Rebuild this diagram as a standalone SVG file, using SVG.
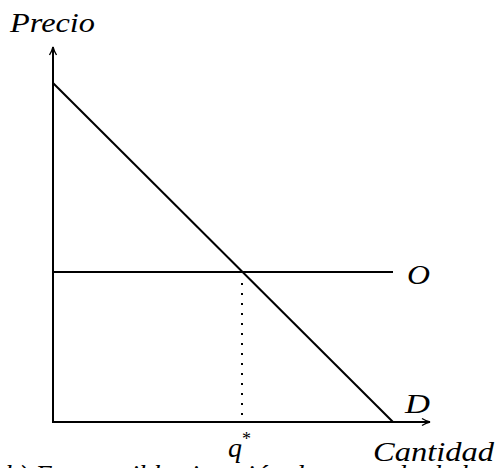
<svg xmlns="http://www.w3.org/2000/svg" width="498" height="468" viewBox="0 0 498 468">
<style>
.ax{stroke:#000;stroke-width:2;fill:none}
.ln{stroke:#000;stroke-width:2;fill:none}
.dot{stroke:#000;stroke-width:2;stroke-dasharray:2 8;fill:none}
.t{font-family:"Liberation Serif","DejaVu Serif",serif;font-style:italic;font-size:28px;fill:#000}
</style>
<defs>
<marker id="arr" viewBox="0 0 10 10" refX="9" refY="5" markerWidth="10" markerHeight="10" markerUnits="userSpaceOnUse" orient="auto">
<path d="M1,1.5 Q5,4 9,5 Q5,6 1,8.5" stroke="#000" stroke-width="1.4" fill="none"/>
</marker>
</defs>
<g id="connectors">
<line class="ax" x1="53" y1="423" x2="53" y2="47" marker-end="url(#arr)"/>
<line class="ax" x1="52" y1="422" x2="430" y2="422" marker-end="url(#arr)"/>
<line class="ln" x1="53" y1="83" x2="393" y2="422"/>
<line class="ln" x1="53" y1="272" x2="393" y2="272"/>
<line class="dot" x1="242" y1="283" x2="242" y2="422"/>
</g>
<g id="label-precio"><text class="t" x="10" y="32" textLength="85" lengthAdjust="spacingAndGlyphs">Precio</text></g>
<g id="label-O"><text class="t" x="407" y="284" textLength="23" lengthAdjust="spacingAndGlyphs">O</text></g>
<g id="label-D"><text class="t" x="405" y="413" textLength="25" lengthAdjust="spacingAndGlyphs">D</text></g>
<g id="label-q"><text class="t" x="228" y="457">q<tspan font-size="18" dy="-12" font-style="normal">*</tspan></text></g>
<g id="label-cantidad"><text class="t" x="373" y="461" textLength="121" lengthAdjust="spacingAndGlyphs">Cantidad</text></g>
<g id="caption"><text class="t" x="5" y="484">b) Esta posible situación de mercado de la demanda</text></g>
</svg>
